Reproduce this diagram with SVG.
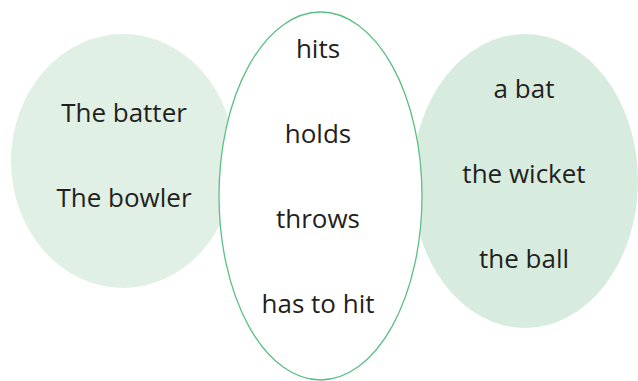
<svg xmlns="http://www.w3.org/2000/svg" width="638" height="381" viewBox="0 0 638 381">
<style>
text{font-family:"Open Sans","Noto Sans","DejaVu Sans",sans-serif;font-size:26px;fill:#231f20;text-anchor:middle}
</style>
<rect width="638" height="381" fill="#ffffff"/>
<g id="left">
<ellipse cx="123" cy="161" rx="112" ry="127" fill="#e0f0e5"/>
</g>
<g id="right">
<ellipse cx="525" cy="181" rx="113" ry="147" fill="#d7ecdf"/>
</g>
<g id="center">
<ellipse cx="320.5" cy="196" rx="101.5" ry="184" fill="#ffffff" stroke="#5cbf85" stroke-width="1.3"/>
</g>
<g id="left-text">
<text x="124" y="122">The batter</text>
<text x="124" y="207">The bowler</text>
</g>
<g id="center-text">
<text x="318" y="58">hits</text>
<text x="318" y="143">holds</text>
<text x="318" y="228">throws</text>
<text x="318" y="313">has to hit</text>
</g>
<g id="right-text">
<text x="524" y="98">a bat</text>
<text x="524" y="183">the wicket</text>
<text x="524" y="268">the ball</text>
</g>
<g id="connectors"/>
</svg>
